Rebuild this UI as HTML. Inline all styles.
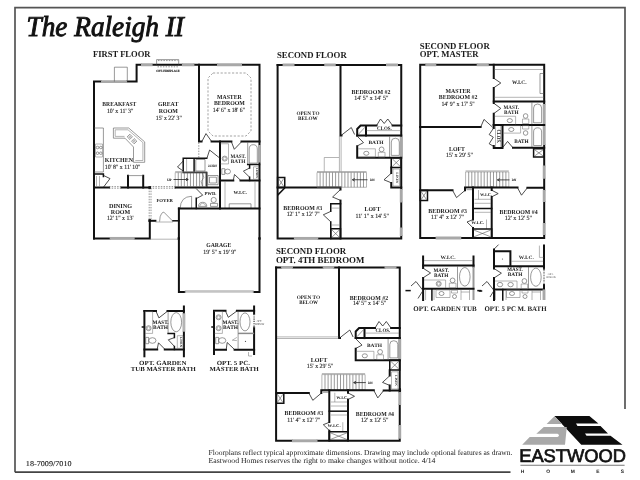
<!DOCTYPE html>
<html><head><meta charset="utf-8">
<style>
html,body{margin:0;padding:0;background:#fff;width:640px;height:480px;overflow:hidden}
svg{display:block;will-change:transform}
text{font-family:"Liberation Serif",serif;fill:#1a1a1a;text-rendering:geometricPrecision}
.w{stroke:#111;stroke-width:2;fill:none;stroke-linecap:square}
.wi{stroke:#111;stroke-width:1.5;fill:none;stroke-linecap:square}
.win{stroke:#a8a8a8;stroke-width:2.9;fill:none}
.t{stroke:#555;stroke-width:0.6;fill:none}
.tk{stroke:#222;stroke-width:0.8;fill:none}
.tl{stroke:#777;stroke-width:0.55;fill:none}
.st{stroke:#555;stroke-width:0.6;fill:none}
.d{stroke:#666;stroke-width:0.7;fill:none;stroke-dasharray:1.5 1.2}
</style></head><body>
<svg width="640" height="480" viewBox="0 0 640 480">

<path d="M15 472.2 V7.6 H625 V409" stroke="#555" stroke-width="1.7" fill="none"/>
<path d="M15 472.2 H510.5" stroke="#444" stroke-width="1.8" fill="none"/>
<text x="26.6" y="35.8" text-anchor="start" style="font-size:28.8px;font-style:italic;stroke:#111;stroke-width:0.95;fill:#111;" textLength="157.3" lengthAdjust="spacingAndGlyphs">The Raleigh II</text>
<text x="93" y="57.3" text-anchor="start" style="font-size:9px;font-weight:bold;" textLength="57.5" lengthAdjust="spacingAndGlyphs">FIRST FLOOR</text>
<path class="w" d="M94 238.4 V81.6 H101"/>
<path class="w" d="M127 81.6 H136.6 V64.7 H141"/>
<path class="w" d="M152.6 64.7 H181.9 M194.4 64.7 H217 M242 64.7 H259.5 V292 H253.8 M184.8 292 H178.9 V208.6"/>
<path class="win" d="M101 81.6 H127 M141 64.7 H152.6 M181.9 64.7 H194.4 M217 64.7 H242"/>
<path class="win" d="M259.5 145 V162.5"/>
<path class="win" d="M184.8 292 H253.8" style="stroke:#c4c4c4;stroke-width:1.6"/>
<path class="tl" d="M184.8 290.8 H253.8"/>
<path class="t" d="M114.4 81.6 V67.2 H127.3 V81.6"/>
<path class="t" d="M156.6 64.7 V59.6 H178.7 V64.7"/>
<path class="d" d="M158 60.6 H177.5"/>
<path class="d" d="M157.5 66.8 H178"/>
<text x="168" y="72.2" text-anchor="middle" style="font-size:3.2px;font-weight:bold;stroke:#333;stroke-width:0.15;" textLength="23.5" lengthAdjust="spacingAndGlyphs">OPT. FIREPLACE</text>
<path class="w" d="M94 238.4 H109.7 M134.7 238.4 H149.8 V220.5"/>
<path class="win" d="M109.7 238.4 H134.7"/>
<path class="d" d="M149.2 188 V220 M151 188 V220"/>
<path class="w" d="M149.8 220.8 H155.4"/>
<path class="wi" d="M172.9 220.8 H178.9"/>
<path class="tl" d="M149.8 239.2 H178.9"/>
<path class="tl" d="M155.4 222 H172.9"/>
<path class="t" d="M159.6 221.6 Q159.8 215.5 161.3 214.2 Q162.3 212.1 163.8 212.1 L172.9 221.3"/>
<rect x="177.6" y="237.3" width="2.4" height="2.4" fill="#111"/>
<rect x="258.3" y="237.3" width="2.4" height="2.4" fill="#111"/>
<path class="w" d="M94 187.4 H109 M121.6 187.4 H149.8"/>
<path class="d" d="M109 186.6 H121.6 M109 188.2 H121.6"/>
<path class="d" d="M150 186.6 H175.8 M150 188.2 H175.8"/>
<rect x="148.4" y="186.2" width="2.6" height="2.6" fill="#111"/>
<rect x="148.4" y="219.3" width="2.6" height="2.6" fill="#111"/>
<path class="wi" d="M94 174 H103.4 V176.5"/>
<path class="tk" d="M103.6 175.5 L110 178.6 L103.6 187"/>
<path class="tl" d="M96.5 176 V186 M99.5 176 V186"/>
<path class="w" d="M128 187.4 V175.8 M143.2 187.4 V175.8"/>
<path class="t" d="M128 175.6 H143.2"/>
<path class="t" d="M94 128 H103.4 V172 H94"/>
<path class="tl" d="M95.5 144 H102.5 V157 H95.5 Z"/>
<circle cx="97.5" cy="147.5" r="1.3" class="t"/>
<circle cx="100.8" cy="147.5" r="1.3" class="t"/>
<circle cx="97.5" cy="153.2" r="1.3" class="t"/>
<circle cx="100.8" cy="153.2" r="1.3" class="t"/>
<path class="t" d="M113.4 128 H128.7 L144.7 141.9 V162.3 H133.5 V147 L125 138.2 H113.4 Z"/>
<path class="tl" d="M115.2 129.8 H128 L142.9 142.6 V160.5 H135.3"/>
<path class="tl" d="M115.2 129.8 V136.4 H124.5"/>
<path class="t" d="M129.8 134.2 L132.4 136.8 L129.8 139.4 L127.2 136.8 Z M134.2 138.6 L136.8 141.2 L134.2 143.8 L131.6 141.2 Z"/>
<circle cx="129.8" cy="136.8" r="0.8" class="tl"/>
<circle cx="134.2" cy="141.2" r="0.8" class="tl"/>
<path class="w" d="M199 64.7 V141.6 H201.5 M211.6 141.6 H231.4 M241.5 141.6 H259.5"/>
<path class="tk" d="M201.8 141.6 L206 133.6 L211.4 141.2"/>
<path class="tk" d="M231.4 141.8 L234.3 149.3 L241.5 141.8"/>
<path class="d" d="M213 73 H246 L251 78 V131 L246 136 H213 L208 131 V78 Z" style="stroke:#666;stroke-width:0.6;stroke-dasharray:2.2 1.6"/>
<path class="d" d="M198.8 142.5 V157.8"/>
<path class="w" d="M220 141.6 V208.6"/>
<path class="w" d="M220 180.4 H233.3 M240.5 180.4 H259.5"/>
<path class="tk" d="M233.3 180.2 L234.5 174.5 L240.5 180.2"/>
<path class="t" d="M247.7 142.3 V164.4"/>
<path class="t" d="M249.2 163.1 V149 Q249.2 144.7 253.25 144.7 Q257.3 144.7 257.3 149 V163.1 Z"/>
<path class="wi" d="M247.7 164.4 H259.5 M249.6 164.4 V167.9 M249.6 177.3 V180.4"/>
<path class="tk" d="M249.6 168 L243.4 171.2 L249.6 177.2"/>
<path class="tl" d="M253.5 166.8 H258.7 V179.2 H253.5 Z"/>
<text x="256.1" y="173" transform="rotate(90 256.1 173)" text-anchor="middle" style="font-size:3px;font-weight:bold">LINEN</text>
<circle cx="224.7" cy="158.6" r="2.5" class="t"/>
<circle cx="224.7" cy="158.6" r="1.5" class="tl"/>
<path class="tl" d="M220.5 143.75 H228.5 V163.9 H220.5"/>
<path class="t" d="M221.8 168.7 H224.8 V174.4 H221.8 Z"/>
<ellipse cx="227.6" cy="171.5" rx="2.9" ry="2.4" class="t"/>
<path class="tl" d="M225 181.5 V208 M255 181.5 V208"/>
<path class="t" d="M229.2 208 V203.8 H251 V208"/>
<path class="wi" d="M183.2 158.3 H206.7 M183.2 158.3 V172.4 M194.1 158.3 V172.4 M183.2 172.4 H206.7 V186.5"/>
<path class="tl" d="M186.6 159 V171.5"/>
<path class="tk" d="M183.2 161 L177.5 167 L183.2 171"/>
<path class="tk" d="M206.9 158.3 L209.6 150 L220 158.3"/>
<path class="t" d="M195.8 159.5 H205 V171 H195.8 Z"/>
<path class="t" d="M207.8 175.5 H218.1 V184.7 H207.8 Z M209.5 177.2 H216.4 V183 H209.5 Z"/>
<text x="212.6" y="167.2" text-anchor="middle" style="font-size:3.2px;stroke:#1a1a1a;stroke-width:0.12;" textLength="9" lengthAdjust="spacingAndGlyphs">LAUNDRY</text>
<path class="w" d="M175.7 187.4 H220"/>
<path class="tl" d="M175.2 172.6 H206.7 V186.6 H175.2 Z"/>
<path class="tl" d="M175.2 171.6 H206.7"/>
<path class="st" d="M178.25 172.6 V186.6 M181.30 172.6 V186.6 M184.35 172.6 V186.6 M187.40 172.6 V186.6 M190.45 172.6 V186.6 M193.50 172.6 V186.6 M196.55 172.6 V186.6 M199.60 172.6 V186.6 M202.65 172.6 V186.6 M205.70 172.6 V186.6 "/>
<path class="tk" d="M173.5 179.5 H188 M186 178.2 L188.3 179.5 L186 180.8"/>
<text x="169.3" y="180.6" text-anchor="middle" style="font-size:3.2px;stroke:#1a1a1a;stroke-width:0.15;" textLength="4.6" lengthAdjust="spacingAndGlyphs">UP</text>
<path class="t" d="M202.5 172.8 L203.8 177.5 L201.2 181.5 L202.5 186.5"/>
<path class="wi" d="M196.25 198.3 V208.6"/>
<path class="tk" d="M196.1 188.5 L202.7 195.2 L197 198.2"/>
<path class="t" d="M191.6 208.6 V196.3 M180.1 208.6 Q180.5 196.5 191.6 196.3"/>
<path class="t" d="M198.6 206.4 A4.1 4.1 0 0 1 206.8 206.4 Z"/>
<path class="tl" d="M199.8 206.2 A2.9 2.9 0 0 1 205.6 206.2"/>
<circle cx="213.7" cy="200" r="2.6" class="t"/>
<path class="t" d="M210.5 203.4 H217.6 V206.4 H210.5 Z"/>
<path class="w" d="M178.9 208.6 H259.5"/>
<text x="119.35" y="105.8" text-anchor="middle" style="font-size:6.2px;font-weight:bold;" textLength="34.0" lengthAdjust="spacingAndGlyphs">BREAKFAST</text>
<text x="120.1" y="112.8" text-anchor="middle" style="font-size:6.5px;stroke:#1a1a1a;stroke-width:0.12;" textLength="26.4" lengthAdjust="spacingAndGlyphs">10' x 11' 3&quot;</text>
<text x="168.1" y="106.1" text-anchor="middle" style="font-size:6.2px;font-weight:bold;" textLength="20.4" lengthAdjust="spacingAndGlyphs">GREAT</text>
<text x="168.4" y="112.7" text-anchor="middle" style="font-size:6.2px;font-weight:bold;" textLength="19.1" lengthAdjust="spacingAndGlyphs">ROOM</text>
<text x="168.8" y="119.6" text-anchor="middle" style="font-size:6.5px;stroke:#1a1a1a;stroke-width:0.12;" textLength="26.1" lengthAdjust="spacingAndGlyphs">15' x 22' 3&quot;</text>
<text x="229.4" y="98.75" text-anchor="middle" style="font-size:6.2px;font-weight:bold;" textLength="24.75" lengthAdjust="spacingAndGlyphs">MASTER</text>
<text x="229.4" y="104.7" text-anchor="middle" style="font-size:6.2px;font-weight:bold;" textLength="31.0" lengthAdjust="spacingAndGlyphs">BEDROOM</text>
<text x="228.9" y="111.6" text-anchor="middle" style="font-size:6.5px;stroke:#1a1a1a;stroke-width:0.12;" textLength="32.1" lengthAdjust="spacingAndGlyphs">14' 6&quot; x 18' 6&quot;</text>
<text x="104.8" y="162.4" text-anchor="start" style="font-size:6.2px;font-weight:bold;" textLength="28.2" lengthAdjust="spacingAndGlyphs">KITCHEN</text>
<text x="104.8" y="169.1" text-anchor="start" style="font-size:6.5px;stroke:#1a1a1a;stroke-width:0.12;" textLength="35.7" lengthAdjust="spacingAndGlyphs">10' 8&quot; x 11' 10&quot;</text>
<text x="238.1" y="157.7" text-anchor="middle" style="font-size:5.4px;font-weight:bold;" textLength="15.4" lengthAdjust="spacingAndGlyphs">MAST.</text>
<text x="238.1" y="162.7" text-anchor="middle" style="font-size:5.4px;font-weight:bold;" textLength="14.5" lengthAdjust="spacingAndGlyphs">BATH</text>
<text x="240.2" y="194.4" text-anchor="middle" style="font-size:4.6px;font-weight:bold;" textLength="13.5" lengthAdjust="spacingAndGlyphs">W.I.C.</text>
<text x="210.5" y="194.7" text-anchor="middle" style="font-size:4.6px;font-weight:bold;" textLength="12.0" lengthAdjust="spacingAndGlyphs">PWD.</text>
<text x="164.7" y="201.9" text-anchor="middle" style="font-size:4.6px;font-weight:bold;" textLength="16.6" lengthAdjust="spacingAndGlyphs">FOYER</text>
<text x="120.5" y="207.7" text-anchor="middle" style="font-size:6.2px;font-weight:bold;" textLength="23.2" lengthAdjust="spacingAndGlyphs">DINING</text>
<text x="120.5" y="213.6" text-anchor="middle" style="font-size:6.2px;font-weight:bold;" textLength="19.4" lengthAdjust="spacingAndGlyphs">ROOM</text>
<text x="120.2" y="220.2" text-anchor="middle" style="font-size:6.5px;stroke:#1a1a1a;stroke-width:0.12;" textLength="26.5" lengthAdjust="spacingAndGlyphs">12' 1&quot; x 13'</text>
<text x="218.8" y="246.75" text-anchor="middle" style="font-size:6.2px;font-weight:bold;" textLength="25.2" lengthAdjust="spacingAndGlyphs">GARAGE</text>
<text x="219.9" y="253.6" text-anchor="middle" style="font-size:6.5px;stroke:#1a1a1a;stroke-width:0.12;" textLength="33.2" lengthAdjust="spacingAndGlyphs">19' 5&quot; x 19' 9&quot;</text>
<text x="277" y="57.5" text-anchor="start" style="font-size:9px;font-weight:bold;" textLength="69.75" lengthAdjust="spacingAndGlyphs">SECOND FLOOR</text>
<g transform="translate(0 0)">
<path class="w" d="M277.6 64.9 H282.6 M294.5 64.9 H324.25 M335.75 64.9 H386 M398 64.9 H401.25 V189"/>
<path class="win" d="M282.6 64.9 H294.5 M324.25 64.9 H335.75 M386 64.9 H398"/>
<path class="win" d="M401.25 136.5 V157"/>
<path class="w" d="M340.5 64.9 V135.6 H341.5"/>
<path class="tk" d="M341.7 135 L351.3 127.5 L354.6 134.5"/>
<path class="w" d="M357.2 135.6 V129 L360.6 125.6 H376.5 M392.6 125.6 H401.25"/>
<path class="w" d="M366 126 V135.6"/>
<path class="w" d="M357.2 135.6 H401.25"/>
<path class="t" d="M358.5 134.2 L365 127.2"/>
<path class="tk" d="M376.5 125.6 L380.5 119 L384.2 123.5 L387.8 119 L392.6 125.6"/>
<path class="tl" d="M366.5 130.6 H400.5"/>
<path class="w" d="M357.2 146.2 V157.75 H401.25"/>
<path class="tk" d="M357.5 136.5 L363.5 142.6 L357.5 145.8"/>
<path class="tl" d="M358.2 148.8 H375.4 V157 H358.2"/>
<ellipse cx="366.3" cy="153.3" rx="2.6" ry="2" class="t"/>
<circle cx="381.6" cy="149.4" r="2.4" class="t"/>
<path class="tl" d="M378.3 152.3 H385 V157 H378.3 Z"/>
<path class="t" d="M389.6 136.5 V157 M391.3 155.4 V142 Q391.3 138.2 395.3 138.2 Q399.3 138.2 399.3 142 V155.4 Z"/>
<path class="wi" d="M391.25 157.75 H401.25 V167.5 H391.25 Z"/>
<path class="t" d="M392.25 158.75 L400.25 166.5 M400.25 158.75 L392.25 166.5"/>
</g>
<text x="384.4" y="129.75" text-anchor="middle" style="font-size:5.2px;font-weight:bold;" textLength="14.75" lengthAdjust="spacingAndGlyphs">CLOS.</text>
<text x="376" y="144.4" text-anchor="middle" style="font-size:4.9px;font-weight:bold;" textLength="15.0" lengthAdjust="spacingAndGlyphs">BATH</text>
<text x="308" y="114.5" text-anchor="middle" style="font-size:5.4px;font-weight:bold;" textLength="22.9" lengthAdjust="spacingAndGlyphs">OPEN TO</text>
<text x="307.9" y="119.7" text-anchor="middle" style="font-size:5.4px;font-weight:bold;" textLength="19.6" lengthAdjust="spacingAndGlyphs">BELOW</text>
<text x="371" y="93.9" text-anchor="middle" style="font-size:6.2px;font-weight:bold;" textLength="39.0" lengthAdjust="spacingAndGlyphs">BEDROOM #2</text>
<text x="371.3" y="99.6" text-anchor="middle" style="font-size:6.5px;stroke:#1a1a1a;stroke-width:0.12;" textLength="34.2" lengthAdjust="spacingAndGlyphs">14' 5&quot; x 14' 5&quot;</text>
<path class="w" d="M277.6 64.9 V238.4 H293.9 M318.25 238.4 H401.25 V236 M401.25 227.5 V202.5"/>
<path class="win" d="M293.9 238.4 H318.25"/>
<path class="win" d="M401.25 189 V202.5 M401.25 227.5 V236"/>
<path class="wi" d="M277.6 177.5 H284.75 V187.5 H277.6 Z"/>
<path class="t" d="M278.6 178.5 L283.75 186.5 M283.75 178.5 L278.6 186.5"/>
<path class="w" d="M277.6 187.5 H340.5 V189.5"/>
<path class="wi" d="M284.2 188.5 L278.2 194.6"/>
<path class="tk" d="M340.5 189.5 L332.6 197 L340.5 200.4"/>
<path class="w" d="M340.5 200.6 V238.4"/>
<path class="wi" d="M330.75 238.4 V221.9 M330.75 211.25 V203.75 H340.5"/>
<path class="tk" d="M330.75 211.4 L323.3 214.8 L330.75 221.8"/>
<path class="tl" d="M331.5 208.1 H340 M331.5 225 H340"/>
<path class="wi" d="M330.75 228.75 H340.5 V238.4 H330.75 Z"/>
<path class="t" d="M331.75 229.75 L339.5 237.4 M339.5 229.75 L331.75 237.4"/>
<path class="tl" d="M317 172.5 H366.5 V187.25 H317 Z"/>
<path class="tl" d="M317 171.5 H366.5"/>
<path class="st" d="M320.10 172.5 V187.25 M323.20 172.5 V187.25 M326.30 172.5 V187.25 M329.40 172.5 V187.25 M332.50 172.5 V187.25 M335.60 172.5 V187.25 M338.70 172.5 V187.25 M341.80 172.5 V187.25 M344.90 172.5 V187.25 M348.00 172.5 V187.25 M351.10 172.5 V187.25 M354.20 172.5 V187.25 M357.30 172.5 V187.25 M360.40 172.5 V187.25 M363.50 172.5 V187.25 "/>
<path class="tl" d="M324.25 171.5 V157.5 H339 M339.4 135.8 V171.5 M341.1 135.8 V171.5"/>
<path class="tk" d="M352.5 179.75 H367.5 M354.7 178.4 L352.3 179.75 L354.7 181.1"/>
<text x="372.2" y="181.2" text-anchor="middle" style="font-size:3.2px;stroke:#1a1a1a;stroke-width:0.12;" textLength="4.5" lengthAdjust="spacingAndGlyphs">DN</text>
<path class="w" d="M391.25 167.5 V173 M391.25 183 V187.5 H401.25"/>
<path class="tk" d="M391.25 173.2 L384 179.8 L391.25 182.8"/>
<path class="tl" d="M393 169 H399.5 V186 H393 Z"/>
<text x="396.4" y="178" transform="rotate(90 396.4 178)" text-anchor="middle" style="font-size:3.4px;font-weight:bold">LINEN</text>
<text x="302.8" y="210" text-anchor="middle" style="font-size:6.2px;font-weight:bold;" textLength="38.9" lengthAdjust="spacingAndGlyphs">BEDROOM #3</text>
<text x="303.2" y="215.6" text-anchor="middle" style="font-size:6.5px;stroke:#1a1a1a;stroke-width:0.12;" textLength="33.1" lengthAdjust="spacingAndGlyphs">12' 1&quot; x 12' 7&quot;</text>
<text x="372.5" y="211.25" text-anchor="middle" style="font-size:6.2px;font-weight:bold;" textLength="16.0" lengthAdjust="spacingAndGlyphs">LOFT</text>
<text x="372.3" y="217.5" text-anchor="middle" style="font-size:6.5px;stroke:#1a1a1a;stroke-width:0.12;" textLength="33.4" lengthAdjust="spacingAndGlyphs">11' 1&quot; x 14' 5&quot;</text>
<text x="419.75" y="48.6" text-anchor="start" style="font-size:9px;font-weight:bold;" textLength="70.0" lengthAdjust="spacingAndGlyphs">SECOND FLOOR</text>
<text x="419.75" y="57.4" text-anchor="start" style="font-size:9px;font-weight:bold;" textLength="58.75" lengthAdjust="spacingAndGlyphs">OPT. MASTER</text>
<path class="w" d="M420.2 237.8 V64.8 H425.3 M436.3 64.8 H476.7 M488.8 64.8 H544.2 V104 M544.2 145 V165.6 M544.2 178.75 V190 M544.2 201.9 V223.1 M544.2 235 V238 H461.25 M435.6 238 H420.2"/>
<path class="win" d="M425.3 64.8 H436.3 M476.7 64.8 H488.8 M435.6 238 H461.25"/>
<path class="win" d="M544.2 104 V145 M544.2 165.6 V178.75 M544.2 190 V201.9 M544.2 223.1 V235"/>
<path class="w" d="M493.75 64.8 V78 M493.75 88 V103 M493.75 113.75 V124.4"/>
<path class="tk" d="M493.75 78.2 L500.8 83 L493.75 87.8"/>
<path class="tk" d="M493.75 103.2 L500.8 108.4 L493.75 113.6"/>
<path class="w" d="M493.75 101.5 H544.2"/>
<path class="tl" d="M494.5 69.5 H543.5 M494.5 97.3 H543.5"/>
<path class="t" d="M543.5 73.5 H540 V93.5 H543.5"/>
<path class="w" d="M493.75 125 H544.2"/>
<path class="w" d="M420.2 126.9 H480.6"/>
<path class="tk" d="M480.8 126.8 L484 119.4 L492.8 127.4"/>
<path class="w" d="M502.5 125 V148.1 H493.75 V146"/>
<path class="w" d="M493.75 125 V128"/>
<path class="tk" d="M493.75 127.8 L489.2 134.6 L493.3 137.2 L489.2 143.8 L493.75 146.4"/>
<path class="tl" d="M495.5 126 V147 M500.8 126 V147"/>
<text x="496.6" y="136.3" transform="rotate(90 496.6 136.3)" text-anchor="middle" style="font-size:5.6px;font-weight:bold" textLength="13.5" lengthAdjust="spacingAndGlyphs">CLOS.</text>
<path class="w" d="M513 147.75 H544.2"/>
<path class="tk" d="M502.7 147.6 L507.6 141.4 L512.8 147.6"/>
<path class="tl" d="M503.75 125.6 H520.6 V133.1 H503.75"/>
<ellipse cx="511.3" cy="129.5" rx="2.6" ry="2" class="t"/>
<path class="tl" d="M522.5 125.6 H528.8 V129 H522.5 Z"/>
<circle cx="525.6" cy="133" r="2.3" class="t"/>
<path class="t" d="M531.9 125.6 V147 M533.6 145.5 V132 Q533.6 127.8 537.6 127.8 Q541.6 127.8 541.6 132 V145.5 Z"/>
<path class="wi" d="M533.6 148.75 H544.2 V157 H533.6 Z"/>
<path class="t" d="M534.6 149.75 L543.2 156 M543.2 149.75 L534.6 156"/>
<path class="tl" d="M495 116.25 H515.6 V124.4"/>
<ellipse cx="509.8" cy="120.6" rx="2.6" ry="2" class="t"/>
<circle cx="525.6" cy="116" r="2.3" class="t"/>
<path class="tl" d="M522.5 119 H528.8 V123.5 H522.5 Z"/>
<path class="t" d="M531.9 102.3 V124.3 M533.6 122.8 V108 Q533.6 104 537.6 104 Q541.6 104 541.6 108 V122.8 Z"/>
<text x="458.1" y="92.8" text-anchor="middle" style="font-size:6.2px;font-weight:bold;" textLength="25.0" lengthAdjust="spacingAndGlyphs">MASTER</text>
<text x="458.1" y="99.0" text-anchor="middle" style="font-size:6.2px;font-weight:bold;" textLength="38.5" lengthAdjust="spacingAndGlyphs">BEDROOM #2</text>
<text x="458.1" y="105.9" text-anchor="middle" style="font-size:6.5px;stroke:#1a1a1a;stroke-width:0.12;" textLength="33.3" lengthAdjust="spacingAndGlyphs">14' 9&quot; x 17' 5&quot;</text>
<text x="519.2" y="84.2" text-anchor="middle" style="font-size:5.4px;font-weight:bold;" textLength="14.6" lengthAdjust="spacingAndGlyphs">W.I.C.</text>
<text x="511.25" y="108.5" text-anchor="middle" style="font-size:5.4px;font-weight:bold;" textLength="15.3" lengthAdjust="spacingAndGlyphs">MAST.</text>
<text x="511.25" y="113.6" text-anchor="middle" style="font-size:5.4px;font-weight:bold;" textLength="14.5" lengthAdjust="spacingAndGlyphs">BATH</text>
<text x="521.4" y="142.75" text-anchor="middle" style="font-size:5.2px;font-weight:bold;" textLength="14.5" lengthAdjust="spacingAndGlyphs">BATH</text>
<g transform="translate(0 0)">
<path class="tl" d="M465.6 171.9 H508.8 V187.2 H465.6 Z"/>
<path class="tl" d="M465.6 170.9 H508.8"/>
<path class="st" d="M468.70 171.9 V187.2 M471.80 171.9 V187.2 M474.90 171.9 V187.2 M478.00 171.9 V187.2 M481.10 171.9 V187.2 M484.20 171.9 V187.2 M487.30 171.9 V187.2 M490.40 171.9 V187.2 M493.50 171.9 V187.2 M496.60 171.9 V187.2 M499.70 171.9 V187.2 M502.80 171.9 V187.2 M505.90 171.9 V187.2 "/>
<path class="tk" d="M497.5 179.9 H509.5 M499.7 178.6 L497.3 179.9 L499.7 181.2"/>
<path class="w" d="M420.2 190.25 H452.5 M465 190.25 V187.5 H517.5 M527.4 187.8 H543.8"/>
<path class="tk" d="M452.6 190.4 L456.5 197.6 L465 190.4"/>
<path class="tk" d="M517.6 187.9 L521.5 195.2 L527.3 187.9"/>
<rect x="466.5" y="188.2" width="5.7" height="2" fill="#aaa"/>
<path class="wi" d="M420.2 190.6 H427.5 V200.6 H420.2 Z"/>
<path class="t" d="M421.2 191.6 L426.5 199.6 M426.5 191.6 L421.2 199.6"/>
<path class="w" d="M473 187.5 V219.4 M473 228 V237.8"/>
<path class="w" d="M491.7 187.5 V190 M491.7 197 V237.8"/>
<path class="wi" d="M473 208.5 H491.7"/>
<path class="tk" d="M491.7 190.2 L498.2 193.6 L491.7 196.8"/>
<path class="tk" d="M473 219.6 L467 222 L473 227.8"/>
<path class="tl" d="M474.5 199.3 H491 M474.5 203.3 H491 M474.5 212.3 H491 M478.5 190 V199.3 M486.5 219.5 V229"/>
<path class="wi" d="M473 229.1 H491.7 V237.8 H473 Z"/>
<path class="t" d="M474 230.1 L490.7 236.8 M490.7 230.1 L474 236.8"/>
</g>
<text x="514" y="181.2" text-anchor="middle" style="font-size:3.2px;stroke:#1a1a1a;stroke-width:0.12;" textLength="4.5" lengthAdjust="spacingAndGlyphs">DN</text>
<text x="447.6" y="212.5" text-anchor="middle" style="font-size:6.2px;font-weight:bold;" textLength="38.75" lengthAdjust="spacingAndGlyphs">BEDROOM #3</text>
<text x="447.5" y="219.4" text-anchor="middle" style="font-size:6.5px;stroke:#1a1a1a;stroke-width:0.12;" textLength="33.05" lengthAdjust="spacingAndGlyphs">11' 4&quot; x 12' 7&quot;</text>
<text x="518.6" y="213.5" text-anchor="middle" style="font-size:6.2px;font-weight:bold;" textLength="38.25" lengthAdjust="spacingAndGlyphs">BEDROOM #4</text>
<text x="518.4" y="219.75" text-anchor="middle" style="font-size:6.5px;stroke:#1a1a1a;stroke-width:0.12;" textLength="27.4" lengthAdjust="spacingAndGlyphs">12' x 12' 5&quot;</text>
<text x="486" y="195.9" text-anchor="middle" style="font-size:4.4px;font-weight:bold;" textLength="12" lengthAdjust="spacingAndGlyphs">W.I.C.</text>
<text x="477.8" y="224" text-anchor="middle" style="font-size:4.4px;font-weight:bold;" textLength="13" lengthAdjust="spacingAndGlyphs">W.I.C.</text>
<text x="457" y="151.2" text-anchor="middle" style="font-size:6.2px;font-weight:bold;" textLength="16.0" lengthAdjust="spacingAndGlyphs">LOFT</text>
<text x="459.4" y="156.9" text-anchor="middle" style="font-size:6.5px;stroke:#1a1a1a;stroke-width:0.12;" textLength="26.8" lengthAdjust="spacingAndGlyphs">15' x 29' 5&quot;</text>
<text x="275.9" y="253.75" text-anchor="start" style="font-size:9px;font-weight:bold;" textLength="70.2" lengthAdjust="spacingAndGlyphs">SECOND FLOOR</text>
<text x="275.9" y="262.7" text-anchor="start" style="font-size:9px;font-weight:bold;" textLength="88.5" lengthAdjust="spacingAndGlyphs">OPT. 4TH BEDROOM</text>
<g transform="translate(-1.5 202.5)">
<path class="w" d="M277.6 64.9 H282.6 M294.5 64.9 H324.25 M335.75 64.9 H386 M398 64.9 H401.25 V189"/>
<path class="win" d="M282.6 64.9 H294.5 M324.25 64.9 H335.75 M386 64.9 H398"/>
<path class="win" d="M401.25 136.5 V157"/>
<path class="w" d="M340.5 64.9 V135.6 H341.5"/>
<path class="tk" d="M341.7 135 L351.3 127.5 L354.6 134.5"/>
<path class="w" d="M357.2 135.6 V129 L360.6 125.6 H376.5 M392.6 125.6 H401.25"/>
<path class="w" d="M366 126 V135.6"/>
<path class="w" d="M357.2 135.6 H401.25"/>
<path class="t" d="M358.5 134.2 L365 127.2"/>
<path class="tk" d="M376.5 125.6 L380.5 119 L384.2 123.5 L387.8 119 L392.6 125.6"/>
<path class="tl" d="M366.5 130.6 H400.5"/>
<path class="w" d="M357.2 146.2 V157.75 H401.25"/>
<path class="tk" d="M357.5 136.5 L363.5 142.6 L357.5 145.8"/>
<path class="tl" d="M358.2 148.8 H375.4 V157 H358.2"/>
<ellipse cx="366.3" cy="153.3" rx="2.6" ry="2" class="t"/>
<circle cx="381.6" cy="149.4" r="2.4" class="t"/>
<path class="tl" d="M378.3 152.3 H385 V157 H378.3 Z"/>
<path class="t" d="M389.6 136.5 V157 M391.3 155.4 V142 Q391.3 138.2 395.3 138.2 Q399.3 138.2 399.3 142 V155.4 Z"/>
<path class="wi" d="M391.25 157.75 H401.25 V167.5 H391.25 Z"/>
<path class="t" d="M392.25 158.75 L400.25 166.5 M400.25 158.75 L392.25 166.5"/>
</g>
<text x="382.9" y="332.25" text-anchor="middle" style="font-size:5.2px;font-weight:bold;" textLength="14.75" lengthAdjust="spacingAndGlyphs">CLOS.</text>
<text x="374.5" y="346.9" text-anchor="middle" style="font-size:4.9px;font-weight:bold;" textLength="15.0" lengthAdjust="spacingAndGlyphs">BATH</text>
<text x="308.4" y="298.75" text-anchor="middle" style="font-size:5.4px;font-weight:bold;" textLength="23.4" lengthAdjust="spacingAndGlyphs">OPEN TO</text>
<text x="308.6" y="303.6" text-anchor="middle" style="font-size:5.4px;font-weight:bold;" textLength="18.6" lengthAdjust="spacingAndGlyphs">BELOW</text>
<text x="368.9" y="300.1" text-anchor="middle" style="font-size:6.2px;font-weight:bold;" textLength="38.4" lengthAdjust="spacingAndGlyphs">BEDROOM #2</text>
<text x="369.6" y="304.8" text-anchor="middle" style="font-size:6.5px;stroke:#1a1a1a;stroke-width:0.12;" textLength="33.3" lengthAdjust="spacingAndGlyphs">14' 5&quot; x 14' 5&quot;</text>
<text x="319.1" y="361.9" text-anchor="middle" style="font-size:6.2px;font-weight:bold;" textLength="16.6" lengthAdjust="spacingAndGlyphs">LOFT</text>
<text x="320" y="368" text-anchor="middle" style="font-size:6.5px;stroke:#1a1a1a;stroke-width:0.12;" textLength="26.5" lengthAdjust="spacingAndGlyphs">15' x 29' 5&quot;</text>
<path class="tl" d="M276.1 336.9 H338.6 M276.1 338.5 H338.6"/>
<path class="w" d="M276.1 267.4 V440.8 H291.9 M317.5 440.8 H399.75 V438.75 M399.75 425 V405 M399.75 391.9 V389"/>
<path class="win" d="M291.9 440.8 H317.5"/>
<path class="win" d="M399.75 391.9 V405 M399.75 425 V438.75"/>
<g transform="translate(-143.7 202.7)">
<path class="tl" d="M465.6 171.9 H508.8 V187.2 H465.6 Z"/>
<path class="tl" d="M465.6 170.9 H508.8"/>
<path class="st" d="M468.70 171.9 V187.2 M471.80 171.9 V187.2 M474.90 171.9 V187.2 M478.00 171.9 V187.2 M481.10 171.9 V187.2 M484.20 171.9 V187.2 M487.30 171.9 V187.2 M490.40 171.9 V187.2 M493.50 171.9 V187.2 M496.60 171.9 V187.2 M499.70 171.9 V187.2 M502.80 171.9 V187.2 M505.90 171.9 V187.2 "/>
<path class="tk" d="M497.5 179.9 H509.5 M499.7 178.6 L497.3 179.9 L499.7 181.2"/>
<path class="w" d="M420.2 190.25 H452.5 M465 190.25 V187.5 H517.5 M527.4 187.8 H543.8"/>
<path class="tk" d="M452.6 190.4 L456.5 197.6 L465 190.4"/>
<path class="tk" d="M517.6 187.9 L521.5 195.2 L527.3 187.9"/>
<rect x="466.5" y="188.2" width="5.7" height="2" fill="#aaa"/>
<path class="wi" d="M420.2 190.6 H427.5 V200.6 H420.2 Z"/>
<path class="t" d="M421.2 191.6 L426.5 199.6 M426.5 191.6 L421.2 199.6"/>
<path class="w" d="M473 187.5 V219.4 M473 228 V237.8"/>
<path class="w" d="M491.7 187.5 V190 M491.7 197 V237.8"/>
<path class="wi" d="M473 208.5 H491.7"/>
<path class="tk" d="M491.7 190.2 L498.2 193.6 L491.7 196.8"/>
<path class="tk" d="M473 219.6 L467 222 L473 227.8"/>
<path class="tl" d="M474.5 199.3 H491 M474.5 203.3 H491 M474.5 212.3 H491 M478.5 190 V199.3 M486.5 219.5 V229"/>
<path class="wi" d="M473 229.1 H491.7 V237.8 H473 Z"/>
<path class="t" d="M474 230.1 L490.7 236.8 M490.7 230.1 L474 236.8"/>
</g>
<text x="370.3" y="383.9" text-anchor="middle" style="font-size:3.2px;stroke:#1a1a1a;stroke-width:0.12;" textLength="4.5" lengthAdjust="spacingAndGlyphs">DN</text>
<text x="303.90000000000003" y="415.2" text-anchor="middle" style="font-size:6.2px;font-weight:bold;" textLength="38.75" lengthAdjust="spacingAndGlyphs">BEDROOM #3</text>
<text x="303.8" y="422.1" text-anchor="middle" style="font-size:6.5px;stroke:#1a1a1a;stroke-width:0.12;" textLength="33.05" lengthAdjust="spacingAndGlyphs">11' 4&quot; x 12' 7&quot;</text>
<text x="374.90000000000003" y="416.2" text-anchor="middle" style="font-size:6.2px;font-weight:bold;" textLength="38.25" lengthAdjust="spacingAndGlyphs">BEDROOM #4</text>
<text x="374.7" y="422.45" text-anchor="middle" style="font-size:6.5px;stroke:#1a1a1a;stroke-width:0.12;" textLength="27.4" lengthAdjust="spacingAndGlyphs">12' x 12' 5&quot;</text>
<text x="342.3" y="398.6" text-anchor="middle" style="font-size:4.4px;font-weight:bold;" textLength="12" lengthAdjust="spacingAndGlyphs">W.I.C.</text>
<text x="334.1" y="426.7" text-anchor="middle" style="font-size:4.4px;font-weight:bold;" textLength="13" lengthAdjust="spacingAndGlyphs">W.I.C.</text>
<path class="w" d="M389.7 370.3 V375.6 M389.7 385.6 V390.5"/>
<path class="tk" d="M389.7 375.8 L382.5 382.4 L389.7 385.4"/>
<path class="tl" d="M391.5 371.8 H398 V389 H391.5 Z"/>
<text x="394.8" y="380.6" transform="rotate(90 394.8 380.6)" text-anchor="middle" style="font-size:3.4px;font-weight:bold">LINEN</text>
<path class="w" d="M423.1 256.5 V268 M423.1 278 V300"/>
<path class="w" d="M473.5 256.5 V266.5"/>
<path class="win" d="M473.5 266.5 V300" style="stroke:#999;stroke-width:2"/>
<path class="w" d="M423.1 265.6 H473.5"/>
<path class="w" d="M423.1 288.75 H473.5"/>
<path class="tl" d="M424 260.6 H472.8"/>
<path class="tk" d="M423.1 268.2 L430.6 273 L423.1 277.8"/>
<path class="tl" d="M424 280 H445.6 V288"/>
<circle cx="438.7" cy="283.8" r="2.5" class="t"/>
<circle cx="438.7" cy="283.8" r="1.5" class="tl"/>
<circle cx="452.6" cy="280.4" r="2.4" class="t"/>
<path class="tl" d="M449.3 283.2 H456 V287.8 H449.3 Z"/>
<path class="t" d="M457.5 266.2 V288 M459.5 276.8 A5.3 9.3 0 1 0 470.1 276.8 A5.3 9.3 0 1 0 459.5 276.8"/>
<path class="wi" d="M431.9 288.75 V300"/>
<path class="tl" d="M425.6 289.5 V300 M434 289.5 V300"/>
<path class="tl" d="M436 290 H450 V297.5 H436 Z"/>
<ellipse cx="441.5" cy="293.5" rx="2.5" ry="2" class="t"/>
<circle cx="454.5" cy="296.5" r="2" class="t"/>
<path class="tl" d="M451.5 290.3 H457.5 V293 H451.5 Z"/>
<path class="tl" d="M461 290 V300 M469.5 290 V300 M461 292 H469.5"/>
<path class="wi" d="M406.2 290.6 H410"/>
<path class="tk" d="M411 286 L416 281.5 L423 290.5 M423 290.5 L418 298.5"/>
<path class="wi" d="M478 290.6 H480.5"/>
<text x="441.2" y="271.9" text-anchor="middle" style="font-size:5.2px;font-weight:bold;" textLength="15.5" lengthAdjust="spacingAndGlyphs">MAST.</text>
<text x="441.2" y="276.6" text-anchor="middle" style="font-size:5.2px;font-weight:bold;" textLength="14.5" lengthAdjust="spacingAndGlyphs">BATH</text>
<text x="448.1" y="259.4" text-anchor="middle" style="font-size:5px;font-weight:bold;" textLength="15.0" lengthAdjust="spacingAndGlyphs">W.I.C.</text>
<text x="445" y="310.9" text-anchor="middle" style="font-size:7px;font-weight:bold;" textLength="63.5" lengthAdjust="spacingAndGlyphs">OPT. GARDEN TUB</text>
<path class="w" d="M494 249.4 V268.4 M494 278 V300"/>
<path class="w" d="M544 245.6 V268.75 M544 285 V289.4"/>
<path class="win" d="M544 268.75 V285" style="stroke-dasharray:0.8 0.8;stroke:#777;stroke-width:1.6"/>
<path class="w" d="M494 251.25 H510.4 V266.25 H544 M494 266.25 H510.4"/>
<path class="tk" d="M494 249.2 L498.6 244.6"/>
<path class="w" d="M494 289.4 H544"/>
<path class="tl" d="M511.2 261.25 H543.2"/>
<path class="tl" d="M539.4 245.6 V257.4 H543.5"/>
<circle cx="502.5" cy="259" r="0.6" fill="#555"/>
<path class="tk" d="M494 268.5 L501.4 273.2 L494 278"/>
<path class="tl" d="M495 281 H517 V289"/>
<ellipse cx="500" cy="284.6" rx="2.7" ry="2.2" class="t"/>
<ellipse cx="510.6" cy="284.6" rx="2.7" ry="2.2" class="t"/>
<circle cx="524.4" cy="281" r="2.4" class="t"/>
<path class="tl" d="M521.2 284 H527.6 V288.6 H521.2 Z"/>
<path class="t" d="M528.5 267 V289 M530.6 277.2 A5.3 9.1 0 1 0 541.2 277.2 A5.3 9.1 0 1 0 530.6 277.2"/>
<path class="wi" d="M502.75 289.4 V300"/>
<path class="tl" d="M495.5 290 V300 M506 290 V300"/>
<path class="tl" d="M506.5 290 H520 V297.5 H506.5 Z"/>
<ellipse cx="512" cy="293.5" rx="2.5" ry="2" class="t"/>
<circle cx="525" cy="296.5" r="2" class="t"/>
<path class="tl" d="M522 290.3 H528 V293 H522 Z"/>
<path class="tl" d="M532 290 V300 M540.5 290 V300 M532 292 H540.5"/>
<path class="win" d="M544 289.4 V300"/>
<path class="wi" d="M479.5 291 H481.5"/>
<path class="tk" d="M482 286 L487 281.5 L494 290.5 M494 290.5 L490 297"/>
<text x="515" y="271.4" text-anchor="middle" style="font-size:5.2px;font-weight:bold;" textLength="15.5" lengthAdjust="spacingAndGlyphs">MAST.</text>
<text x="515" y="276.4" text-anchor="middle" style="font-size:5.2px;font-weight:bold;" textLength="14.5" lengthAdjust="spacingAndGlyphs">BATH</text>
<text x="526.25" y="259.3" text-anchor="middle" style="font-size:5px;font-weight:bold;" textLength="15.0" lengthAdjust="spacingAndGlyphs">W.I.C.</text>
<text x="550.6" y="275" text-anchor="middle" style="font-size:2.8px;" textLength="5.5" lengthAdjust="spacingAndGlyphs">OPT.</text>
<text x="551" y="278.2" text-anchor="middle" style="font-size:2.8px;" textLength="9.5" lengthAdjust="spacingAndGlyphs">WINDOW</text>
<text x="515.5" y="311.25" text-anchor="middle" style="font-size:7px;font-weight:bold;" textLength="62.0" lengthAdjust="spacingAndGlyphs">OPT. 5 PC M. BATH</text>
<path class="w" d="M144.4 311 V356.3"/>
<path class="w" d="M183.9 306.4 V313.3 M183.9 331.7 V356.3"/>
<path class="win" d="M183.9 313.3 V331.7" style="stroke:#b5b5b5"/>
<path class="w" d="M144.4 311 H156 M167.5 311 H183.9"/>
<path class="w" d="M144.4 349.4 H157.2 M164.8 349.4 H183.9"/>
<path class="tk" d="M156 311.2 L158.9 317.9 L167.5 311.2"/>
<path class="tk" d="M157.2 349.2 L158.5 342.8 L164.8 349.2"/>
<path class="t" d="M168.1 311.5 V333.4"/>
<path class="wi" d="M168.1 333.4 H174.4 V337.4 M174.4 346.6 V349.4"/>
<path class="tk" d="M174.4 337.6 L168.3 339.8 L174.4 346.4"/>
<path class="t" d="M170.8 322.2 A5.4 9.6 0 1 0 181.6 322.2 A5.4 9.6 0 1 0 170.8 322.2"/>
<path class="tl" d="M177.3 335.7 H183 V348.3 H177.3 Z"/>
<text x="180.2" y="342" transform="rotate(90 180.2 342)" text-anchor="middle" style="font-size:3.2px;font-weight:bold">LINEN</text>
<path class="tl" d="M145 311.6 H152.6 V333.4 H145"/>
<circle cx="148.6" cy="328.2" r="2.5" class="t"/>
<circle cx="148.6" cy="328.2" r="1.5" class="tl"/>
<path class="t" d="M145.7 337.4 H148.6 V343.7 H145.7 Z"/>
<ellipse cx="152.4" cy="340.5" rx="3.6" ry="2.8" class="t"/>
<path class="wi" d="M142.4 327 H144.4"/>
<text x="160.6" y="323.5" text-anchor="middle" style="font-size:5.2px;font-weight:bold;" textLength="16.0" lengthAdjust="spacingAndGlyphs">MAST.</text>
<text x="160.6" y="329" text-anchor="middle" style="font-size:5.2px;font-weight:bold;" textLength="15.0" lengthAdjust="spacingAndGlyphs">BATH</text>
<text x="162.8" y="364.9" text-anchor="middle" style="font-size:6.3px;font-weight:bold;" textLength="47.5" lengthAdjust="spacingAndGlyphs">OPT. GARDEN</text>
<text x="163.3" y="370.6" text-anchor="middle" style="font-size:6.3px;font-weight:bold;" textLength="65.0" lengthAdjust="spacingAndGlyphs">TUB MASTER BATH</text>
<path class="w" d="M214 311 V354"/>
<path class="w" d="M254.1 306.4 V313.9 M254.1 327.6 V354"/>
<path class="win" d="M254.1 313.9 V327.6" style="stroke-dasharray:0.9 0.9;stroke:#777;stroke-width:1.8"/>
<path class="w" d="M214 310.8 H225.5 M236.9 310.8 H254.1"/>
<path class="w" d="M214 349.75 H226 M234.6 349.75 H254.1"/>
<path class="tk" d="M225.5 311 L228.3 317.3 L236.9 311"/>
<path class="tk" d="M226.2 349.6 L227.2 342.5 L234.6 349.6"/>
<path class="t" d="M238.1 311.5 V333.4"/>
<path class="t" d="M240 321.9 A5 9 0 1 0 250 321.9 A5 9 0 1 0 240 321.9"/>
<path class="win" d="M238.1 333.4 H254.1" style="stroke:#8a8a8a;stroke-width:1.5"/>
<path class="t" d="M238.1 333.4 V349.2"/>
<circle cx="245.5" cy="341.4" r="0.6" fill="#555"/>
<path class="tl" d="M236.9 337.4 L232.3 340.2 L236.9 340.6"/>
<path class="tl" d="M214.6 311.5 H222.4 V333.4 H214.6"/>
<circle cx="218.6" cy="317.3" r="2.5" class="t"/>
<circle cx="218.6" cy="317.3" r="1.5" class="tl"/>
<circle cx="218.6" cy="328.2" r="2.5" class="t"/>
<circle cx="218.6" cy="328.2" r="1.5" class="tl"/>
<path class="t" d="M215.7 337.4 H218.6 V343.7 H215.7 Z"/>
<ellipse cx="222.2" cy="340.5" rx="3.6" ry="2.8" class="t"/>
<path class="wi" d="M212 327 H214"/>
<path class="tl" d="M248.5 352 V356 H252"/>
<text x="230.5" y="323.5" text-anchor="middle" style="font-size:5.2px;font-weight:bold;" textLength="16.0" lengthAdjust="spacingAndGlyphs">MAST.</text>
<text x="230.5" y="329" text-anchor="middle" style="font-size:5.2px;font-weight:bold;" textLength="15.0" lengthAdjust="spacingAndGlyphs">BATH</text>
<text x="259.3" y="321.6" text-anchor="middle" style="font-size:2.6px;" textLength="5" lengthAdjust="spacingAndGlyphs">OPT.</text>
<text x="259.6" y="324.6" text-anchor="middle" style="font-size:2.6px;" textLength="9" lengthAdjust="spacingAndGlyphs">WINDOW</text>
<text x="233.3" y="364.9" text-anchor="middle" style="font-size:6.3px;font-weight:bold;" textLength="33.2" lengthAdjust="spacingAndGlyphs">OPT. 5 PC.</text>
<text x="234.1" y="370.6" text-anchor="middle" style="font-size:6.3px;font-weight:bold;" textLength="49.2" lengthAdjust="spacingAndGlyphs">MASTER BATH</text>
<text x="25.8" y="465.5" text-anchor="start" style="font-size:7.4px;stroke:#222;stroke-width:0.12;" textLength="45.8" lengthAdjust="spacingAndGlyphs">18-7009/7010</text>
<text x="208.6" y="455.2" text-anchor="start" style="font-size:7.6px;" textLength="303.8" lengthAdjust="spacingAndGlyphs">Floorplans reflect typical approximate dimensions. Drawing may include optional features as drawn.</text>
<text x="208.6" y="463.3" text-anchor="start" style="font-size:7.6px;" textLength="226.8" lengthAdjust="spacingAndGlyphs">Eastwood Homes reserves the right to make changes without notice. 4/14</text>
<polygon points="554.4,416.1 589.4,416.1 598.4,423.5 576,423.5 577.5,426 600.5,426 608,433.5 585,433.5 586.5,435.75 610.5,435.75 622.5,444.75 581.25,444.75" fill="#0d0d0d"/>
<polygon points="554.5,416.2 562.2,424 546.6,424" fill="#a9a9a9"/>
<path d="M543.8 427 H566.8 L565 444.8 H522.2 L529.7 437.1 H557.5 Q560.5 435.4 557.5 433.75 H536.3 Z" fill="#a9a9a9"/>
<text x="519.2" y="461.6" text-anchor="start" style="font-size:18.3px;font-family:'Liberation Sans',sans-serif;stroke:#111;stroke-width:0.7;fill:#111;" textLength="106.8" lengthAdjust="spacingAndGlyphs">EASTWOOD</text>
<rect x="520.4" y="464.8" width="104.2" height="0.8" fill="#555"/>
<text x="522.5" y="472.8" text-anchor="middle" style="font-size:4.9px;font-family:'Liberation Sans',sans-serif;font-weight:bold">H</text>
<text x="548.2" y="472.8" text-anchor="middle" style="font-size:4.9px;font-family:'Liberation Sans',sans-serif;font-weight:bold">O</text>
<text x="572.9" y="472.8" text-anchor="middle" style="font-size:4.9px;font-family:'Liberation Sans',sans-serif;font-weight:bold">M</text>
<text x="598" y="472.8" text-anchor="middle" style="font-size:4.9px;font-family:'Liberation Sans',sans-serif;font-weight:bold">E</text>
<text x="622.5" y="472.8" text-anchor="middle" style="font-size:4.9px;font-family:'Liberation Sans',sans-serif;font-weight:bold">S</text>
</svg>
</body></html>
